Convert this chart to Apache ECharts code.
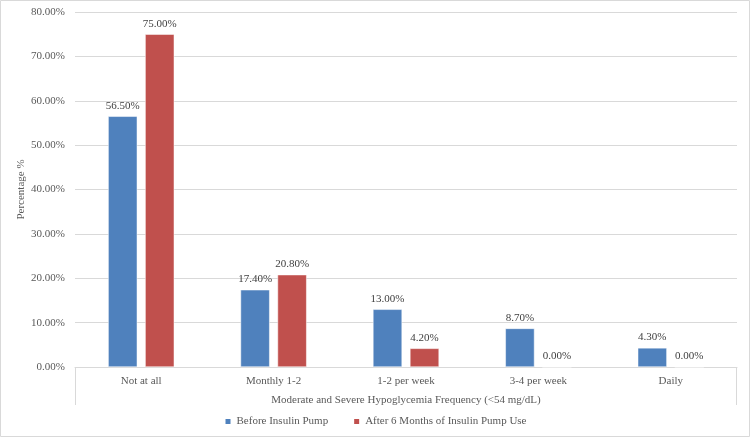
<!DOCTYPE html>
<html>
<head>
<meta charset="utf-8">
<script src="https://cdn.jsdelivr.net/npm/echarts@6/dist/echarts.min.js"></script>
<style>
  html, body { margin: 0; padding: 0; background: #fff; }
  #chart { width: 750px; height: 437px; }
</style>
</head>
<body>
<div id="chart"></div>
<script>
// data
var categories = ['Not at all', 'Monthly 1-2', '1-2 per week', '3-4 per week', 'Daily'];
var beforePump = [56.5, 17.4, 13.0, 8.7, 4.3];
var afterPump = [75.0, 20.8, 4.2, 0.0, 0.0];
var seriesNames = ['Before Insulin Pump', 'After 6 Months of Insulin Pump Use'];
var yTicks = { min: 0, max: 80, interval: 10 };

var font = '"Liberation Serif", "DejaVu Serif", serif';
var gridLeft = 75, gridRight = 13, gridTop = 12, gridBottom = 70;

var chart = echarts.init(document.getElementById('chart'));

function barLabel () {
  return {
    show: true,
    position: 'top',
    distance: 5,
    color: '#404040',
    fontFamily: font,
    fontSize: 11,
    formatter: function (p) { return p.value.toFixed(2) + '%'; },
  };
}

var option = {
  animation: false,
  textStyle: { fontFamily: font },
  grid: { left: gridLeft, right: gridRight, top: gridTop, bottom: gridBottom },
  legend: {
    bottom: 5,
    itemWidth: 7,
    itemHeight: 7,
    itemGap: 24,
    icon: 'rect',
    textStyle: { color: '#595959', fontSize: 11, fontFamily: font },
    data: seriesNames,
  },
  xAxis: {
    type: 'category',
    data: categories,
    name: 'Moderate and Severe Hypoglycemia Frequency (<54 mg/dL)',
    nameLocation: 'middle',
    nameGap: 28,
    nameMoveOverlap: false,
    nameTextStyle: { color: '#595959', fontSize: 11, fontFamily: font },
    axisLine: { lineStyle: { color: '#d9d9d9' } },
    axisTick: { show: false },
    axisLabel: { color: '#595959', fontSize: 11, fontFamily: font, margin: 9 },
  },
  yAxis: {
    type: 'value',
    min: yTicks.min,
    max: yTicks.max,
    interval: yTicks.interval,
    name: 'Percentage %',
    nameLocation: 'middle',
    nameGap: 48,
    nameMoveOverlap: false,
    nameTextStyle: { color: '#595959', fontSize: 11, fontFamily: font },
    axisLabel: {
      color: '#595959', fontSize: 11, fontFamily: font, margin: 10,
      formatter: function (v) { return v.toFixed(2) + '%'; },
    },
    splitLine: { lineStyle: { color: '#d9d9d9' } },
  },
  series: [{
    name: seriesNames[0],
    type: 'bar',
    data: beforePump,
    barWidth: '22%',
    barGap: '27%',
    itemStyle: { color: '#4f81bd', borderColor: '#fff', borderWidth: 0.5 },
    label: barLabel(),
  }, {
    name: seriesNames[1],
    type: 'bar',
    data: afterPump,
    barWidth: '22%',
    itemStyle: { color: '#c0504d', borderColor: '#fff', borderWidth: 0.5 },
    label: barLabel(),
  }],
  graphic: [
    // outer frame
    { type: 'rect', shape: { x: 0.5, y: 0.5, width: 749, height: 436 }, style: { fill: 'none', stroke: '#d9d9d9' }, silent: true },
    // edge ticks of the category axis
    { type: 'line', shape: { x1: gridLeft + 0.5, y1: 437 - gridBottom, x2: gridLeft + 0.5, y2: 405 }, style: { stroke: '#d9d9d9' }, silent: true },
    { type: 'line', shape: { x1: 750 - gridRight - 0.5, y1: 437 - gridBottom, x2: 750 - gridRight - 0.5, y2: 405 }, style: { stroke: '#d9d9d9' }, silent: true },
  ],
};

chart.setOption(option);
</script>
</body>
</html>
